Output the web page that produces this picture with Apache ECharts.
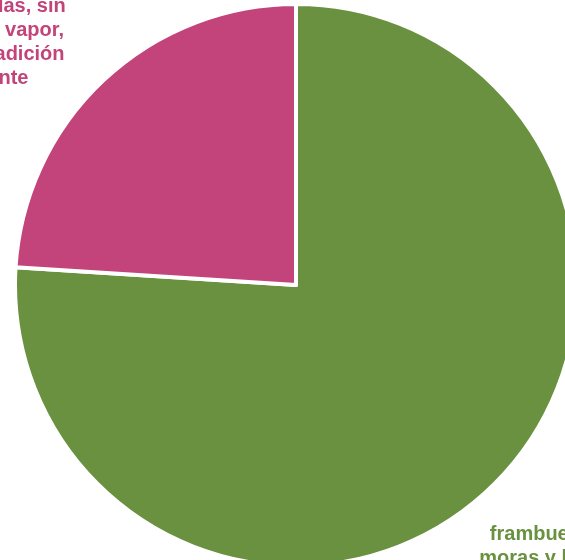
<!DOCTYPE html>
<html>
<head>
<meta charset="utf-8">
<script src="https://cdn.jsdelivr.net/npm/echarts@6/dist/echarts.min.js"></script>
<style>
  html, body { margin: 0; padding: 0; background: #fff; }
  #chart { width: 565px; height: 560px; }
</style>
</head>
<body>
<div id="chart"></div>
<script>
// slices, clockwise from the top
const categories = ['frambuesas,\nmoras y bayas', 'moras hervidas, sin\ncocinadas al vapor,\ncon o sin la adición\nedulcorante']
const values = [76, 24]

const sliceColors = ['#6a9140', '#c2447a']
// label offsets (label line is hidden, only used to place the text)
const lineLen = [78, 51]
const lineLen2 = [7, 97]

const chartDom = document.getElementById('chart')
const myChart = echarts.init(chartDom)

const data = categories.map((name, i) => ({
  name: name,
  value: values[i],
  itemStyle: { color: sliceColors[i] },
  label: { color: sliceColors[i] },
  labelLine: { length: lineLen[i], length2: lineLen2[i] }
}))

const option = {
  animation: false,
  series: [{
    type: 'pie',
    center: [296, 285],
    radius: 281,
    startAngle: 90,
    clockwise: true,
    avoidLabelOverlap: false,
    itemStyle: { borderColor: '#fff', borderWidth: 4 },
    label: {
      show: true,
      position: 'outside',
      formatter: '{b}',
      distanceToLabelLine: 0,
      fontFamily: '"Liberation Sans", Arial, sans-serif',
      fontWeight: 'bold',
      fontSize: 20,
      lineHeight: 24
    },
    labelLine: { show: false },
    labelLayout: () => ({ align: 'center' }),
    emphasis: { disabled: true },
    data: data
  }]
}
myChart.setOption(option)
</script>
</body>
</html>
